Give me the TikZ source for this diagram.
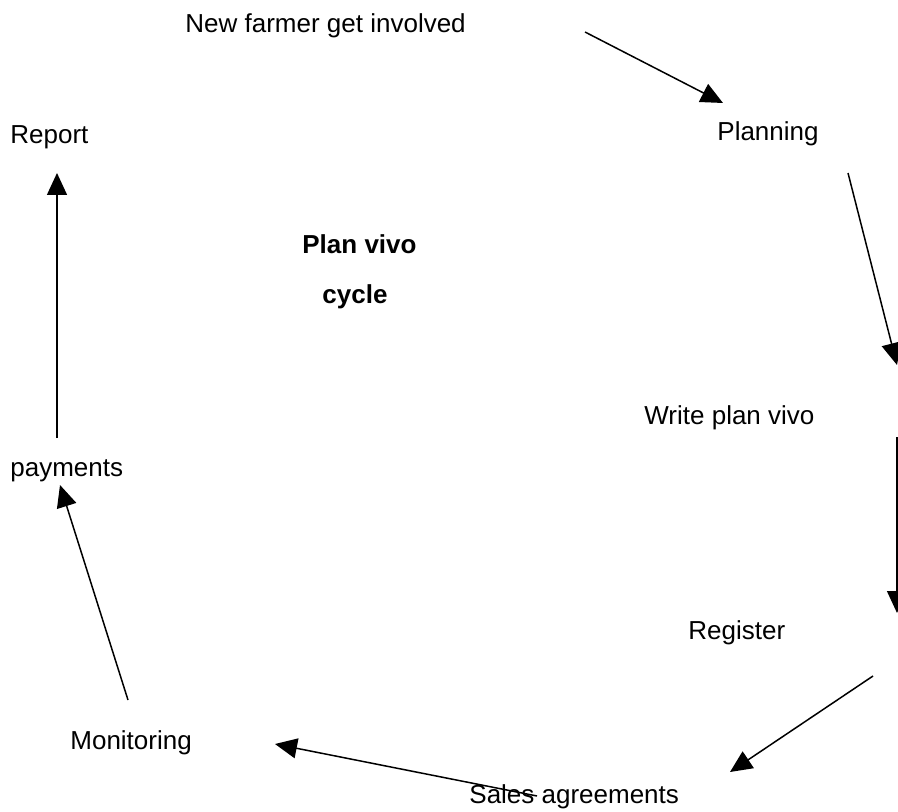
\documentclass[tikz,border=0pt]{standalone}
\usepackage{fontspec}
\setmainfont{Liberation Sans}
\usetikzlibrary{arrows.meta}
\begin{document}
\begin{tikzpicture}
          [x=0.5pt,y=-0.5pt,
          font=\fontsize{13}{15}\selectfont,
          stage/.style={anchor=base west,inner sep=0pt,text=black},
          title/.style={stage,font=\fontsize{13}{15}\selectfont\bfseries},
          arc/.style={-{Triangle[length=11pt,width=10pt]},line width=0.75pt}]

            \clip (0,0) rectangle (898,812);

            \node (new) [stage] at (185,33) {New farmer get involved};
            \node (plan) [stage] at (717,141) {Planning};
            \node (report) [stage] at (10,144) {Report};
            \node (pv) [title] at (302,254) {Plan vivo};
            \node (cyc) [title] at (322,304) {cycle};
            \node (write) [stage] at (644,424) {Write plan vivo};
            \node (pay) [stage] at (10,476) {payments};
            \node (reg) [stage] at (688,639) {Register};
            \node (mon) [stage] at (70,749) {Monitoring};
            \node (sales) [stage] at (469,803) {Sales agreements};

            \coordinate (a1) at (585,32);  \coordinate (b1) at (723,103);
            \coordinate (a2) at (848,173); \coordinate (b2) at (897,365);
            \coordinate (a3) at (897,437); \coordinate (b3) at (897,613);
            \coordinate (a4) at (873,676); \coordinate (b4) at (730,772);
            \coordinate (a5) at (537,796); \coordinate (b5) at (275,744);
            \coordinate (a6) at (128,700); \coordinate (b6) at (60,485);
            \coordinate (a7) at (57,438);  \coordinate (b7) at (57,173);

          \draw [arc] (a1) -- (b1);
          \draw [arc] (a2) -- (b2);
          \draw [arc] (a3) -- (b3);
          \draw [arc] (a4) -- (b4);
          \draw [arc] (a5) -- (b5);
          \draw [arc] (a6) -- (b6);
          \draw [arc] (a7) -- (b7);

        \end{tikzpicture}
\end{document}
